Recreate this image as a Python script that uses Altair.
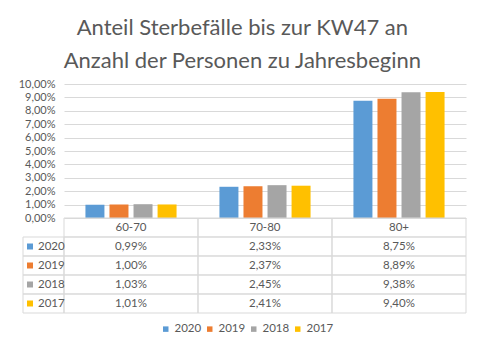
import altair as alt
import pandas as pd

categories = ["60-70", "70-80", "80+"]
years = ["2020", "2019", "2018", "2017"]
v2020 = [0.0099, 0.0233, 0.0875]
v2019 = [0.0100, 0.0237, 0.0889]
v2018 = [0.0103, 0.0245, 0.0938]
v2017 = [0.0101, 0.0241, 0.0940]
colors = ["#5B9BD5", "#ED7D31", "#A5A5A5", "#FFC000"]
title_lines = ["Anteil Sterbefälle bis zur KW47 an", "Anzahl der Personen zu Jahresbeginn"]

series = {"2020": v2020, "2019": v2019, "2018": v2018, "2017": v2017}
FONT = "Lato"
TXT = "#595959"
GRID = "#D9D9D9"

rows = []
for y in years:
    for i, c in enumerate(categories):
        v = series[y][i]
        rows.append({"cat": c, "ci": i, "year": y, "ri": years.index(y) + 1,
                     "value": v, "label": f"{v*100:.2f}%".replace(".", ",")})
df = pd.DataFrame(rows)

W, H = 402, 134
LW = 41 / (W / 3)  # width of label column in category units

bars = alt.Chart(df).mark_bar().encode(
    x=alt.X("cat:N", sort=categories, axis=None,
            scale=alt.Scale(paddingInner=0.32, paddingOuter=0.16)),
    xOffset=alt.XOffset("year:N", sort=years,
                        scale=alt.Scale(paddingInner=0.21, paddingOuter=0)),
    y=alt.Y("value:Q", title=None,
            scale=alt.Scale(domain=[0, 0.1], nice=False),
            axis=alt.Axis(values=[i / 100 for i in range(11)],
                          labelExpr="replace(format(datum.value, '.2%'), '.', ',')",
                          grid=True, gridColor=GRID, domain=False, ticks=False,
                          labelPadding=9, labelFont=FONT, labelFontSize=11,
                          labelColor=TXT)),
    color=alt.Color("year:N", scale=alt.Scale(domain=years, range=colors), legend=None),
).properties(width=W, height=H)

# table cells
cells = []
for i, c in enumerate(categories):
    for r in range(5):
        cells.append({"x": i, "x2": i + 1, "y": r, "y2": r + 1})
for r in range(1, 5):
    cells.append({"x": -LW, "x2": 0, "y": r, "y2": r + 1})
cells_df = pd.DataFrame(cells)

header_df = pd.DataFrame({"cat": categories, "xc": [i + 0.5 for i in range(3)], "yc": [0.5] * 3})
df["xc"] = df["ci"] + 0.5
df["yc"] = df["ri"] + 0.5
lab_df = pd.DataFrame({"year": years, "yc": [r + 1.5 for r in range(4)]})
lab_df["xs"] = -LW + 7 / (W / 3)
lab_df["xt"] = -LW + 15 / (W / 3)

TH = 95
xs = alt.Scale(domain=[0, 3], nice=False, zero=False)
ys = alt.Scale(domain=[0, 5], nice=False, zero=False, reverse=True)

grid_rect = alt.Chart(cells_df).mark_rect(filled=False, stroke=GRID, strokeWidth=1).encode(
    x=alt.X("x:Q", scale=xs, axis=None), x2="x2:Q",
    y=alt.Y("y:Q", scale=ys, axis=None), y2="y2:Q")

hdr = alt.Chart(header_df).mark_text(font=FONT, fontSize=11.5, color=TXT).encode(
    x=alt.X("xc:Q", scale=xs, axis=None), y=alt.Y("yc:Q", scale=ys, axis=None), text="cat:N")

vals = alt.Chart(df).mark_text(font=FONT, fontSize=11.5, color=TXT).encode(
    x=alt.X("xc:Q", scale=xs, axis=None), y=alt.Y("yc:Q", scale=ys, axis=None), text="label:N")

sq = alt.Chart(lab_df).mark_square(size=36, opacity=1).encode(
    x=alt.X("xs:Q", scale=xs, axis=None), y=alt.Y("yc:Q", scale=ys, axis=None),
    color=alt.Color("year:N", scale=alt.Scale(domain=years, range=colors),
                    legend=alt.Legend(title=None, orient="none", legendX=96, legendY=105,
                                      direction="horizontal", symbolType="square",
                                      symbolSize=30, labelFont=FONT, labelFontSize=11.5,
                                      labelColor=TXT, columnPadding=2, labelOffset=3,
                                      symbolStrokeWidth=0)))

ylab = alt.Chart(lab_df).mark_text(font=FONT, fontSize=11.5, color=TXT, align="left").encode(
    x=alt.X("xt:Q", scale=xs, axis=None), y=alt.Y("yc:Q", scale=ys, axis=None), text="year:N")

table = alt.layer(grid_rect, hdr, vals, sq, ylab).properties(width=W, height=TH)

chart = alt.vconcat(bars, table, spacing=0, bounds="flush").resolve_scale(
    color="independent", x="independent", y="independent"
).resolve_legend(color="independent").properties(
    title=alt.TitleParams(title_lines, font=FONT, fontSize=22, fontWeight="normal",
                          color=TXT, anchor="middle", frame="bounds", lineHeight=33, offset=5),
    padding={"left": 17, "top": 16, "right": 8, "bottom": 10},
).configure_view(stroke="transparent")

chart.save("out.html", embed_options={"renderer": "svg", "actions": False})
